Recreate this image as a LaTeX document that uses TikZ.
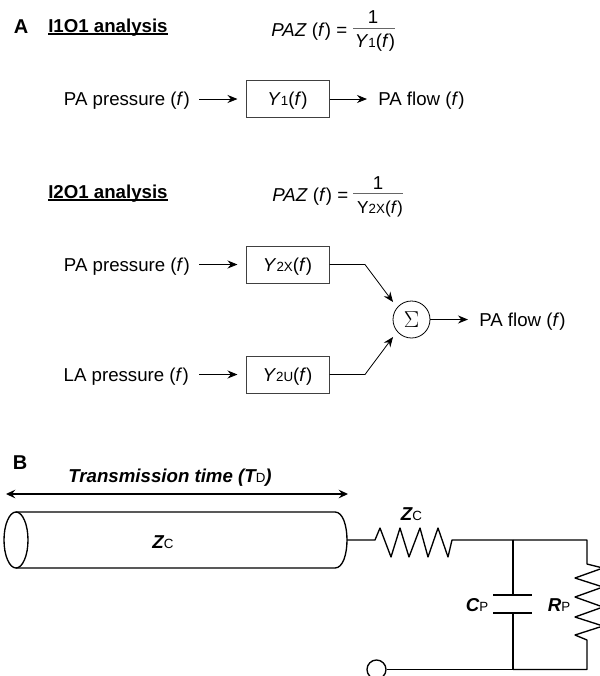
\documentclass[tikz,border=0pt]{standalone}
\usepackage{fontspec}
\setmainfont{Liberation Sans}
\usetikzlibrary{arrows.meta, shapes.geometric, positioning}

\newcommand{\smalltxt}[1]{{\fontsize{10}{10}\selectfont\upshape\mdseries #1}}

\begin{document}
\begin{tikzpicture}[x=0.75pt, y=-0.75pt]

    \tikzset
    {
        font={\fontsize{14}{16}\selectfont},
        txtlabel/.style={inner sep=0pt, text height=10pt, text depth=0pt},
        panelletter/.style={inner sep=0pt, font={\fontsize{15}{16}\selectfont\bfseries}},
        headline/.style={inner sep=0pt, anchor=base west, font={\fontsize{14}{16}\selectfont\bfseries}},
        headrule/.style={line width=1pt},
        fracrule/.style={line width=0.5pt, black!60},
        blockbox/.style={draw=black!75, line width=0.75pt, minimum width=62.25pt, minimum height=27.75pt, inner sep=0pt, text height=10pt, text depth=0pt},
        flowline/.style={line width=0.6pt, -{Stealth[length=7.5pt, width=6pt, inset=2.5pt]}},
        wire/.style={line width=1pt},
        circuitlabel/.style={txtlabel, font={\fontsize{14}{16}\selectfont\bfseries\itshape}}
    }

    \clip (0,0) rectangle (600,676);

    % panel A, first analysis
    \node[panelletter] (panela) at (21,26.5) {A};
    \node[headline] (heada) at (48,32) {I1O1 analysis};
    \draw[headrule] ([yshift=-1.5pt]heada.base west) -- ([yshift=-1.5pt]heada.base east);
    \node[txtlabel, anchor=west] (paza) at (271,30) {\textit{PAZ} (\textit{f}) =};
    \node[txtlabel] (onea) at (373,17) {1};
    \node[txtlabel] (dena) at (375,41) {\textit{Y}\smalltxt{1}(\textit{f})};
    \draw[fracrule] (353,28) -- (395,28);

    \node[txtlabel, anchor=east] (pressa) at (190,99) {PA pressure (\textit{f})};
    \node[blockbox] (boxa) at (287.5,99) {\textit{Y}\smalltxt{1}(\textit{f})};
    \node[txtlabel, anchor=west] (flowa) at (378,99) {PA flow (\textit{f})};
    \draw[flowline, shorten <=6.75pt, shorten >=6pt] (boxa.west -| pressa.east) -- (boxa.west);
    \draw[flowline, shorten >=8.25pt] (boxa.east) -- (boxa.east -| flowa.west);

    % panel A, second analysis
    \node[headline] (headb) at (48,198) {I2O1 analysis};
    \draw[headrule] ([yshift=-1.5pt]headb.base west) -- ([yshift=-1.5pt]headb.base east);
    \node[txtlabel, anchor=west] (pazb) at (272,195) {\textit{PAZ} (\textit{f}) =};
    \node[txtlabel] (oneb) at (378,183) {1};
    \node[txtlabel, font={\fontsize{13}{16}\selectfont}] (denb) at (380,207) {Y\smalltxt{2X}(\textit{f})};
    \draw[fracrule] (353,193) -- (403,193);

    \node[txtlabel, anchor=east] (pressb) at (190,264.5) {PA pressure (\textit{f})};
    \node[txtlabel, anchor=east] (pressc) at (189,374.5) {LA pressure (\textit{f})};
    \node[blockbox] (boxb) at (287.5,264.5) {\textit{Y}\smalltxt{2X}(\textit{f})};
    \node[blockbox] (boxc) at (287.5,374.5) {\textit{Y}\smalltxt{2U}(\textit{f})};
    \node[draw, circle, line width=0.6pt, minimum size=27.75pt, inner sep=0pt] (sumnode) at (411.5,319.5) {\LARGE$\Sigma$};
    \node[txtlabel, anchor=west] (flowb) at (479,319.5) {PA flow (\textit{f})};
    \coordinate (kneeb) at (365,264.5);
    \coordinate (kneec) at (365,374.5);

    \draw[flowline, shorten <=6.75pt, shorten >=6pt] (boxb.west -| pressb.east) -- (boxb.west);
    \draw[flowline, shorten <=7.5pt, shorten >=6pt] (boxc.west -| pressc.east) -- (boxc.west);
    \draw[flowline, shorten >=5pt] (boxb.east) -- (kneeb) -- (sumnode.140);
    \draw[flowline, shorten >=5pt] (boxc.east) -- (kneec) -- (sumnode.220);
    \draw[flowline, shorten >=8.25pt] (sumnode.east) -- (sumnode.east -| flowb.west);

    % panel B, the tube
    \node[panelletter] (panelb) at (20,463) {B};
    \node[circuitlabel] (timelabel) at (170,476) {Transmission time (\textit{T}\smalltxt{D})};
    \coordinate (timeleft) at (6,494);
    \coordinate (timeright) at (348,494);
    \draw[wire, {Stealth[length=7pt, width=6.5pt, inset=2.5pt]}-{Stealth[length=7pt, width=6.5pt, inset=2.5pt]}] (timeleft) -- (timeright);

    \draw[wire] (16,540) ellipse [x radius=12, y radius=28];
    \draw[wire] (16,512) -- (335,512) .. controls (351,512) and (351,568) .. (335,568) -- (16,568);
    \node[circuitlabel] (zctube) at (163,541.5) {Z\smalltxt{C}};

    % panel B, the circuit
    \node[circuitlabel] (zcres) at (411.5,514) {Z\smalltxt{C}};
    \node[circuitlabel] (cplabel) at (477,605) {C\smalltxt{P}};
    \node[circuitlabel] (rplabel) at (559,605) {R\smalltxt{P}};
    \node[draw, circle, line width=1pt, minimum size=14.25pt, inner sep=0pt] (portnode) at (376.5,669.5) {};

    \coordinate (topnode) at (513,540);
    \coordinate (botnode) at (513,669.5);

    \draw[wire, line join=round] (347,540) -- (375,540) -- (380,528) -- (391,557) -- (400,528) -- (409,557)
        -- (420,528) -- (428,557) -- (438,528) -- (448,557) -- (452,540) -- (topnode);
    \draw[wire, line join=round] (topnode) -- (587,540) -- (587,564) -- (603,568) -- (575,578) -- (603,587) -- (575,597)
        -- (603,607) -- (575,617) -- (603,626) -- (575,635) -- (587,640) -- (587,669.5) -- (botnode);
    \draw[wire] (portnode) -- (botnode);
    \draw[wire] (topnode) -- (513,595);
    \draw[wire] (493,595) -- (532,595);
    \draw[wire] (493,613) -- (532,613);
    \draw[wire] (513,613) -- (botnode);

\end{tikzpicture}
\end{document}
